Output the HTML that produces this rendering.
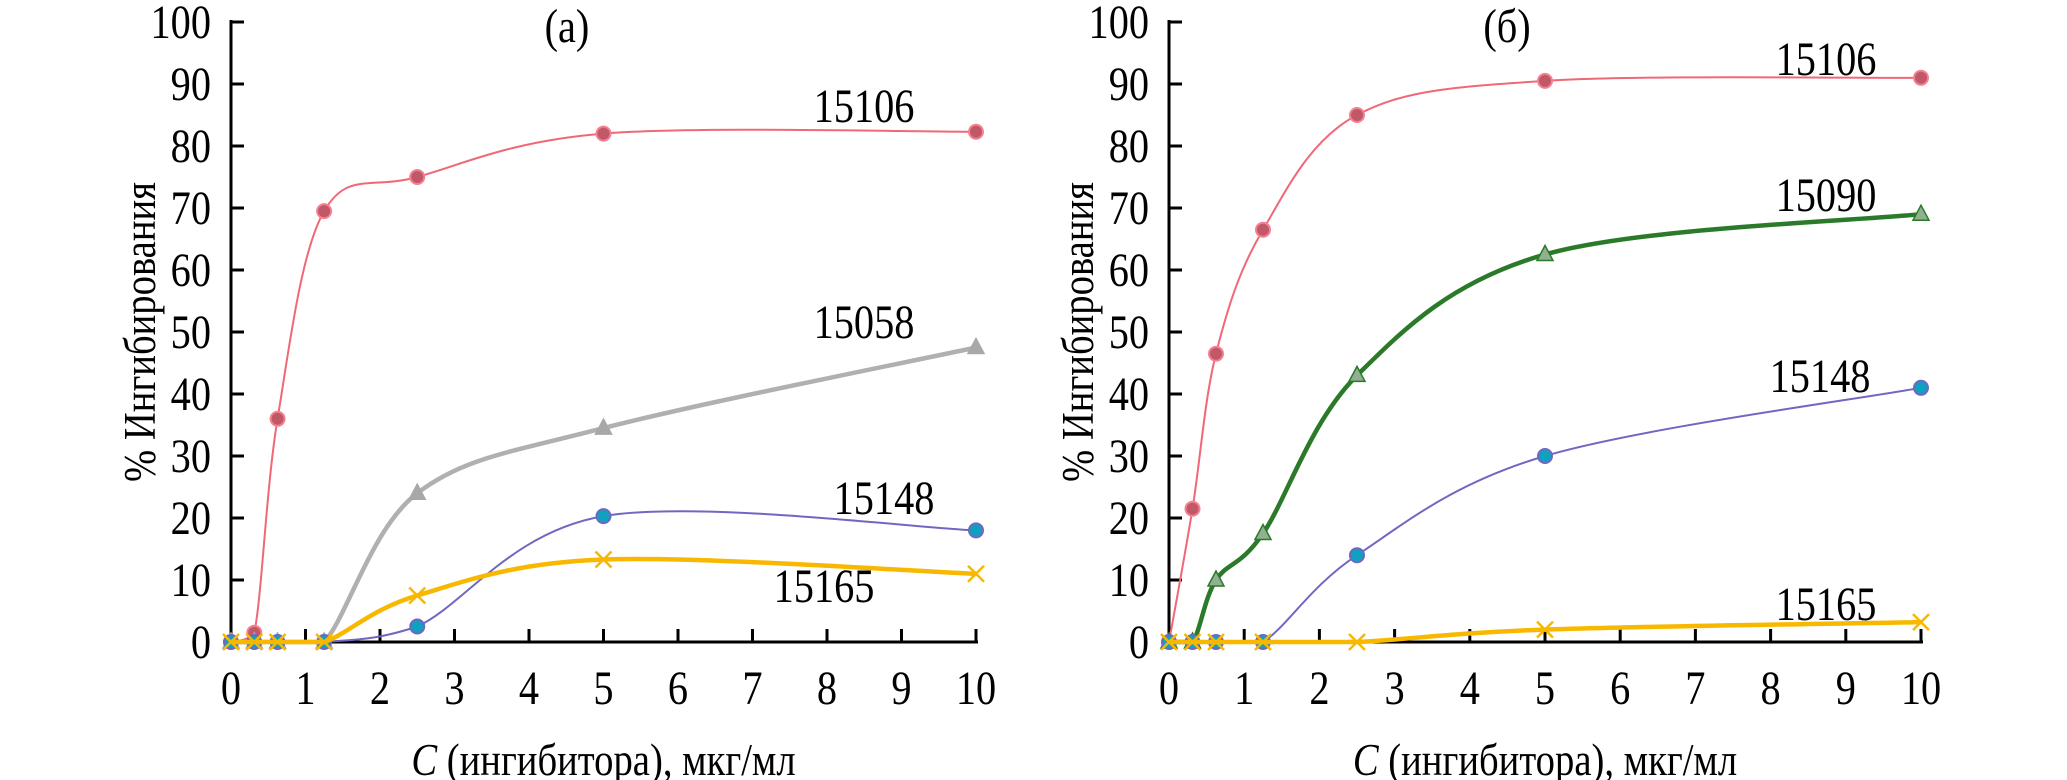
<!DOCTYPE html>
<html><head><meta charset="utf-8"><style>
html,body{margin:0;padding:0;background:#fff;}
svg{display:block;font-family:"Liberation Serif",serif;}
</style></head><body>
<svg id="chart" width="2067" height="780" viewBox="0 0 2067 780"></svg>
<script>
const xValues=[0,0.3125,0.625,1.25,2.5,5,10];
const xTicks=[0,1,2,3,4,5,6,7,8,9,10];
const yTicks=[0,10,20,30,40,50,60,70,80,90,100];
const a15106=[0,1.5,36,69.5,75,82,82.3];
const a15058=[0,0,0,0,24,34.5,47.5];
const a15148=[0,0,0,0,2.5,20.3,18];
const a15165=[0,0,0,0,7.5,13.3,11];
const b15106=[0,21.5,46.5,66.5,85,90.5,91];
const b15090=[0,0,10,17.5,43,62.5,69];
const b15148=[0,0,0,0,14,30,41];
const b15165=[0,0,0,0,0,2,3.2];

const NS="http://www.w3.org/2000/svg";
const svg=document.getElementById('chart');
const SX=0.84;
function mk(tag,attrs,parent){const e=document.createElementNS(NS,tag);for(const k in attrs)e.setAttribute(k,attrs[k]);(parent||svg).appendChild(e);return e;}
function txt(x,y,size,anchor,parent){
 return mk('text',{x:x/SX,y:y,'font-size':size,'text-anchor':anchor,transform:`scale(${SX},1)`},parent);
}

const styles={
 red:{line:'#f06878',w:2,marker:'circle',fill:'#c05868',stroke:'#f58090'},
 grey:{line:'#b0b0b0',w:4.5,marker:'tri',fill:'#a8a8a8',stroke:'#a8a8a8'},
 blue:{line:'#7068c0',w:2,marker:'circle',fill:'#10a0c0',stroke:'#7068c0'},
 yellow:{line:'#f8b800',w:4.5,marker:'x',fill:'none',stroke:'#f8b800'},
 green:{line:'#2a7a2a',w:4.5,marker:'tri',fill:'#90b090',stroke:'#2a7a2a'}
};

function panel(p){
 const g=mk('g',{});
 
 
 const X=v=>p.x0+(p.x1-p.x0)*v/10;
 const Y=v=>p.y0-(p.y0-p.y1)*v/100;
 const ax=mk('line',{x1:p.x0,y1:p.y1-2,x2:p.x0,y2:p.y0,stroke:'#000','stroke-width':3},g);
 
 const axx=mk('line',{x1:p.x0,y1:p.y0,x2:p.x1+2,y2:p.y0,stroke:'#000','stroke-width':3},g);
 
 yTicks.forEach(t=>{
  mk('line',{x1:p.x0,x2:p.x0+13,y1:Y(t),y2:Y(t),stroke:'#000','stroke-width':3},g);
  const tx=txt(p.x0-20,Y(t)+16,48,'end',g);
  tx.textContent=t;
  
 });
 xTicks.forEach(t=>{
  if(t>0)mk('line',{x1:X(t),x2:X(t),y1:p.y0,y2:p.y0-13,stroke:'#000','stroke-width':3},g);
  const tx=txt(X(t),p.y0+62,48,'middle',g);
  tx.textContent=t;
  
 });
 const xt=txt((p.x0+p.x1)/2,p.y0+133,46,'middle',g);
 xt.innerHTML='<tspan font-style="italic">C</tspan> (ингибитора), мкг/мл';
 
 const yt=mk('text',{x:0,y:0,'font-size':46,'text-anchor':'middle',transform:`translate(${p.x0-76},${Y(50)}) rotate(-90) scale(${SX},1)`},g);
 yt.textContent='% Ингибирования';
 
 const tt=txt(p.titleX,42,48,'middle',g);
 tt.textContent=p.title;
 
 p.series.forEach(s=>{
  const st=styles[s.style];
  const pts=xValues.map((x,i)=>[X(x),Y(s.data[i])]);
  let d='M'+pts[0][0]+','+pts[0][1];
  for(let i=0;i<pts.length-1;i++){
   const p0=pts[Math.max(0,i-1)],p1=pts[i],p2=pts[i+1],p3=pts[Math.min(pts.length-1,i+2)];
   const t=1/3;
   const c1=[p1[0]+(p2[0]-p0[0])*t/2,Math.min(p.y0,p1[1]+(p2[1]-p0[1])*t/2)];
   const c2=[p2[0]-(p3[0]-p1[0])*t/2,Math.min(p.y0,p2[1]-(p3[1]-p1[1])*t/2)];
   if(p1[1]===p.y0&&p2[1]===p.y0){c1[1]=p.y0;c2[1]=p.y0;}
   d+=` C${c1[0]},${c1[1]} ${c2[0]},${c2[1]} ${p2[0]},${p2[1]}`;
  }
  const path=mk('path',{d:d,fill:'none',stroke:st.line,'stroke-width':st.w},g);
  
  
  pts.forEach(pt=>{
   let m;
   if(st.marker==='circle')m=mk('circle',{cx:pt[0],cy:pt[1],r:7,fill:st.fill,stroke:st.stroke,'stroke-width':2},g);
   else if(st.marker==='tri')m=mk('polygon',{points:`${pt[0]},${pt[1]-9} ${pt[0]-8},${pt[1]+6} ${pt[0]+8},${pt[1]+6}`,fill:st.fill,stroke:st.stroke,'stroke-width':1.5},g);
   else m=mk('path',{d:`M${pt[0]-8},${pt[1]-8}L${pt[0]+8},${pt[1]+8}M${pt[0]+8},${pt[1]-8}L${pt[0]-8},${pt[1]+8}`,stroke:st.stroke,'stroke-width':2.5},g);
   
   
  });
  const lb=txt(s.lx,s.ly,48,'middle',g);
  lb.textContent=s.label;
  
 });
}
panel({name:'panel-a',x0:231,x1:976,y0:642,y1:22,title:'(a)',titleX:567,series:[
 {data:a15106,style:'red',label:'15106',lx:864,ly:122},
 {data:a15058,style:'grey',label:'15058',lx:864,ly:338},
 {data:a15148,style:'blue',label:'15148',lx:884,ly:514},
 {data:a15165,style:'yellow',label:'15165',lx:824,ly:602}
]});
panel({name:'panel-b',x0:1169,x1:1921,y0:642,y1:22,title:'(б)',titleX:1507,series:[
 {data:b15106,style:'red',label:'15106',lx:1826,ly:75},
 {data:b15090,style:'green',label:'15090',lx:1826,ly:211},
 {data:b15148,style:'blue',label:'15148',lx:1820,ly:392},
 {data:b15165,style:'yellow',label:'15165',lx:1826,ly:620}
]});
</script>
</body></html>
